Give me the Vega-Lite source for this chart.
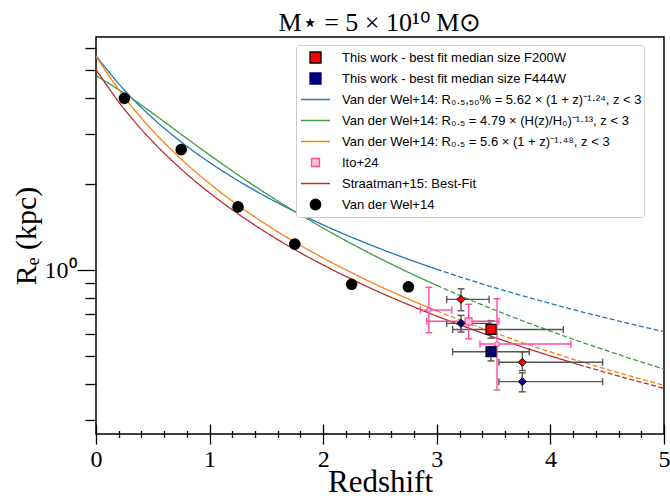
{
  "$schema": "https://vega.github.io/schema/vega-lite/v6.json",
  "width": 568,
  "height": 397,
  "autosize": {"type": "none"},
  "padding": {"left": 96, "top": 37, "right": 6, "bottom": 65},
  "title": {"text": "M⋆ = 5 × 10¹⁰ M⊙", "font": "Liberation Serif", "fontSize": 26, "fontWeight": "normal", "color": "black", "anchor": "middle", "baseline": "alphabetic", "offset": -20, "frame": "group"},
  "config": {
    "view": {"stroke": "black", "strokeWidth": 1.5},
    "axis": {"domain": false, "grid": false, "tickColor": "black", "tickWidth": 1.3, "labelColor": "black", "titleColor": "black", "labelFont": "Liberation Serif", "titleFont": "Liberation Serif", "titleFontWeight": "normal"},
    "legend": {"labelFont": "Liberation Sans", "labelFontSize": 13, "labelColor": "black", "padding": 2, "symbolOffset": 2, "labelOffset": 11, "rowPadding": 0, "clipHeight": 21, "strokeColor": "#cccccc", "fillColor": "white", "cornerRadius": 3, "symbolOpacity": 1, "symbolStrokeWidth": 1.3, "labelLimit": 400}
  },
  "datasets": {
    "curves": [
      {"curve": "vdw_a", "seg": "fit", "z": 0, "R": 5.620},
      {"curve": "vdw_a", "seg": "fit", "z": 0.25, "R": 4.262},
      {"curve": "vdw_a", "seg": "fit", "z": 0.5, "R": 3.399},
      {"curve": "vdw_a", "seg": "fit", "z": 0.75, "R": 2.808},
      {"curve": "vdw_a", "seg": "fit", "z": 1, "R": 2.379},
      {"curve": "vdw_a", "seg": "fit", "z": 1.25, "R": 2.056},
      {"curve": "vdw_a", "seg": "fit", "z": 1.5, "R": 1.804},
      {"curve": "vdw_a", "seg": "fit", "z": 1.75, "R": 1.603},
      {"curve": "vdw_a", "seg": "fit", "z": 2, "R": 1.439},
      {"curve": "vdw_a", "seg": "fit", "z": 2.25, "R": 1.303},
      {"curve": "vdw_a", "seg": "fit", "z": 2.5, "R": 1.189},
      {"curve": "vdw_a", "seg": "fit", "z": 2.75, "R": 1.091},
      {"curve": "vdw_a", "seg": "fit", "z": 3, "R": 1.007},
      {"curve": "vdw_a", "seg": "extrapolated", "z": 3, "R": 1.007},
      {"curve": "vdw_a", "seg": "extrapolated", "z": 3.25, "R": 0.934},
      {"curve": "vdw_a", "seg": "extrapolated", "z": 3.5, "R": 0.870},
      {"curve": "vdw_a", "seg": "extrapolated", "z": 3.75, "R": 0.814},
      {"curve": "vdw_a", "seg": "extrapolated", "z": 4, "R": 0.764},
      {"curve": "vdw_a", "seg": "extrapolated", "z": 4.25, "R": 0.719},
      {"curve": "vdw_a", "seg": "extrapolated", "z": 4.5, "R": 0.679},
      {"curve": "vdw_a", "seg": "extrapolated", "z": 4.75, "R": 0.642},
      {"curve": "vdw_a", "seg": "extrapolated", "z": 5, "R": 0.609},
      {"curve": "vdw_b", "seg": "fit", "z": 0, "R": 4.790},
      {"curve": "vdw_b", "seg": "fit", "z": 0.25, "R": 4.155},
      {"curve": "vdw_b", "seg": "fit", "z": 0.5, "R": 3.535},
      {"curve": "vdw_b", "seg": "fit", "z": 0.75, "R": 2.986},
      {"curve": "vdw_b", "seg": "fit", "z": 1, "R": 2.528},
      {"curve": "vdw_b", "seg": "fit", "z": 1.25, "R": 2.153},
      {"curve": "vdw_b", "seg": "fit", "z": 1.5, "R": 1.850},
      {"curve": "vdw_b", "seg": "fit", "z": 1.75, "R": 1.603},
      {"curve": "vdw_b", "seg": "fit", "z": 2, "R": 1.402},
      {"curve": "vdw_b", "seg": "fit", "z": 2.25, "R": 1.236},
      {"curve": "vdw_b", "seg": "fit", "z": 2.5, "R": 1.098},
      {"curve": "vdw_b", "seg": "fit", "z": 2.75, "R": 0.982},
      {"curve": "vdw_b", "seg": "fit", "z": 3, "R": 0.884},
      {"curve": "vdw_b", "seg": "extrapolated", "z": 3, "R": 0.884},
      {"curve": "vdw_b", "seg": "extrapolated", "z": 3.25, "R": 0.800},
      {"curve": "vdw_b", "seg": "extrapolated", "z": 3.5, "R": 0.728},
      {"curve": "vdw_b", "seg": "extrapolated", "z": 3.75, "R": 0.666},
      {"curve": "vdw_b", "seg": "extrapolated", "z": 4, "R": 0.612},
      {"curve": "vdw_b", "seg": "extrapolated", "z": 4.25, "R": 0.564},
      {"curve": "vdw_b", "seg": "extrapolated", "z": 4.5, "R": 0.522},
      {"curve": "vdw_b", "seg": "extrapolated", "z": 4.75, "R": 0.484},
      {"curve": "vdw_b", "seg": "extrapolated", "z": 5, "R": 0.451},
      {"curve": "vdw_c", "seg": "fit", "z": 0, "R": 5.600},
      {"curve": "vdw_c", "seg": "fit", "z": 0.25, "R": 4.025},
      {"curve": "vdw_c", "seg": "fit", "z": 0.5, "R": 3.073},
      {"curve": "vdw_c", "seg": "fit", "z": 0.75, "R": 2.446},
      {"curve": "vdw_c", "seg": "fit", "z": 1, "R": 2.008},
      {"curve": "vdw_c", "seg": "fit", "z": 1.25, "R": 1.686},
      {"curve": "vdw_c", "seg": "fit", "z": 1.5, "R": 1.443},
      {"curve": "vdw_c", "seg": "fit", "z": 1.75, "R": 1.253},
      {"curve": "vdw_c", "seg": "fit", "z": 2, "R": 1.102},
      {"curve": "vdw_c", "seg": "fit", "z": 2.25, "R": 0.979},
      {"curve": "vdw_c", "seg": "fit", "z": 2.5, "R": 0.877},
      {"curve": "vdw_c", "seg": "fit", "z": 2.75, "R": 0.792},
      {"curve": "vdw_c", "seg": "fit", "z": 3, "R": 0.720},
      {"curve": "vdw_c", "seg": "extrapolated", "z": 3, "R": 0.720},
      {"curve": "vdw_c", "seg": "extrapolated", "z": 3.25, "R": 0.658},
      {"curve": "vdw_c", "seg": "extrapolated", "z": 3.5, "R": 0.605},
      {"curve": "vdw_c", "seg": "extrapolated", "z": 3.75, "R": 0.558},
      {"curve": "vdw_c", "seg": "extrapolated", "z": 4, "R": 0.517},
      {"curve": "vdw_c", "seg": "extrapolated", "z": 4.25, "R": 0.481},
      {"curve": "vdw_c", "seg": "extrapolated", "z": 4.5, "R": 0.449},
      {"curve": "vdw_c", "seg": "extrapolated", "z": 4.75, "R": 0.421},
      {"curve": "vdw_c", "seg": "extrapolated", "z": 5, "R": 0.395},
      {"curve": "straatman", "seg": "fit", "z": 0, "R": 5.030},
      {"curve": "straatman", "seg": "fit", "z": 0.25, "R": 3.653},
      {"curve": "straatman", "seg": "fit", "z": 0.5, "R": 2.813},
      {"curve": "straatman", "seg": "fit", "z": 0.75, "R": 2.256},
      {"curve": "straatman", "seg": "fit", "z": 1, "R": 1.863},
      {"curve": "straatman", "seg": "fit", "z": 1.25, "R": 1.574},
      {"curve": "straatman", "seg": "fit", "z": 1.5, "R": 1.353},
      {"curve": "straatman", "seg": "fit", "z": 1.75, "R": 1.179},
      {"curve": "straatman", "seg": "fit", "z": 2, "R": 1.042},
      {"curve": "straatman", "seg": "fit", "z": 2.25, "R": 0.929},
      {"curve": "straatman", "seg": "fit", "z": 2.5, "R": 0.835},
      {"curve": "straatman", "seg": "fit", "z": 2.75, "R": 0.757},
      {"curve": "straatman", "seg": "fit", "z": 3, "R": 0.690},
      {"curve": "straatman", "seg": "fit", "z": 3.25, "R": 0.633},
      {"curve": "straatman", "seg": "fit", "z": 3.5, "R": 0.583},
      {"curve": "straatman", "seg": "fit", "z": 3.75, "R": 0.539},
      {"curve": "straatman", "seg": "fit", "z": 4, "R": 0.501},
      {"curve": "straatman", "seg": "fit", "z": 4.25, "R": 0.467},
      {"curve": "straatman", "seg": "extrapolated", "z": 4.25, "R": 0.467},
      {"curve": "straatman", "seg": "extrapolated", "z": 4.5, "R": 0.437},
      {"curve": "straatman", "seg": "extrapolated", "z": 4.75, "R": 0.410},
      {"curve": "straatman", "seg": "extrapolated", "z": 5, "R": 0.386}
    ],
    "vdw": [
      {"z": 0.25, "R": 3.99},
      {"z": 0.75, "R": 2.64},
      {"z": 1.25, "R": 1.664},
      {"z": 1.75, "R": 1.233},
      {"z": 2.25, "R": 0.892},
      {"z": 2.75, "R": 0.874}
    ],
    "tw": [
      {"band": "F200W", "kind": "median", "z": 3.477, "R": 0.620, "zlo": 3.139, "zhi": 4.114, "Rlo": 0.578, "Rhi": 0.665},
      {"band": "F444W", "kind": "median", "z": 3.477, "R": 0.518, "zlo": 3.139, "zhi": 3.814, "Rlo": 0.481, "Rhi": 0.539},
      {"band": "F200W", "kind": "bin", "z": 3.213, "R": 0.790, "zlo": 3.087, "zhi": 3.461, "Rlo": 0.721, "Rhi": 0.860},
      {"band": "F444W", "kind": "bin", "z": 3.213, "R": 0.651, "zlo": 3.087, "zhi": 3.461, "Rlo": 0.607, "Rhi": 0.694},
      {"band": "F200W", "kind": "bin", "z": 3.753, "R": 0.476, "zlo": 3.547, "zhi": 4.46, "Rlo": 0.445, "Rhi": 0.518},
      {"band": "F444W", "kind": "bin", "z": 3.753, "R": 0.407, "zlo": 3.547, "zhi": 4.46, "Rlo": 0.375, "Rhi": 0.437}
    ],
    "ito": [
      {"kind": "point", "z": 2.93, "R": 0.725, "zlo": 2.855, "zhi": 3.132, "Rlo": 0.604, "Rhi": 0.870},
      {"kind": "median", "z": 3.28, "R": 0.662, "zlo": 2.91, "zhi": 3.547, "Rlo": 0.575, "Rhi": 0.759},
      {"kind": "point", "z": 3.53, "R": 0.551, "zlo": 3.38, "zhi": 4.18, "Rlo": 0.381, "Rhi": 0.794}
    ],
    "legend": [
      {"entry": "This work - best fit median size F200W"},
      {"entry": "This work - best fit median size F444W"},
      {"entry": "Van der Wel+14: R₀.₅,₅₀% = 5.62 × (1 + z)⁻¹·²⁴, z < 3"},
      {"entry": "Van der Wel+14: R₀.₅ = 4.79 × (H(z)/H₀)⁻¹·¹³, z < 3"},
      {"entry": "Van der Wel+14: R₀.₅ = 5.6 × (1 + z)⁻¹·⁴⁸, z < 3"},
      {"entry": "Ito+24"},
      {"entry": "Straatman+15: Best-Fit"},
      {"entry": "Van der Wel+14"}
    ]
  },
  "resolve": {
    "axis": {"x": "independent", "y": "independent"},
    "scale": {"fill": "independent", "stroke": "independent", "shape": "independent", "size": "independent", "color": "independent", "strokeDash": "independent"}
  },
  "layer": [
    {
      "data": {"name": "curves"},
      "mark": {"type": "line", "strokeWidth": 1.3, "interpolate": "monotone", "clip": true},
      "encoding": {
        "x": {"field": "z", "type": "quantitative", "scale": {"domain": [0, 5], "nice": false, "zero": false},
          "axis": {"orient": "bottom", "values": [0, 1, 2, 3, 4, 5], "format": "d", "offset": -10, "tickSize": 20, "labelFontSize": 24, "labelPadding": 3, "labelFlush": false, "title": "Redshift", "titleFontSize": 31, "titleFontWeight": "normal", "titlePadding": -4}},
        "y": {"field": "R", "type": "quantitative", "scale": {"type": "log", "domain": [0.267, 6.54], "nice": false},
          "axis": {"orient": "left", "values": [0.3, 0.4, 0.5, 0.6, 0.7, 0.8, 0.9, 2, 3, 4, 5, 6], "tickSize": 11, "labels": false, "title": null}},
        "color": {"field": "curve", "type": "nominal", "scale": {"domain": ["vdw_a", "vdw_b", "vdw_c", "straatman"], "range": ["#1f77b4", "#3d9e3d", "#ff7f0e", "#b5302e"]}, "legend": null},
        "strokeDash": {"field": "seg", "type": "nominal", "scale": {"domain": ["fit", "extrapolated"], "range": [[1, 0], [5, 2.5]]}, "legend": null}
      }
    },
    {
      "data": {"name": "vdw"},
      "mark": {"type": "point", "shape": "circle", "filled": true, "size": 135, "color": "black", "opacity": 1},
      "encoding": {
        "x": {"field": "z", "type": "quantitative",
          "axis": {"orient": "bottom", "values": [0.2, 0.4, 0.6, 0.8, 1.2, 1.4, 1.6, 1.8, 2.2, 2.4, 2.6, 2.8, 3.2, 3.4, 3.6, 3.8, 4.2, 4.4, 4.6, 4.8], "offset": -3.5, "tickSize": 7, "labels": false, "title": null}},
        "y": {"field": "R", "type": "quantitative", "scale": {"type": "log"},
          "axis": {"orient": "left", "values": [1], "tickSize": 19, "labelExpr": "'10⁰'", "labelFontSize": 24, "labelPadding": 1, "title": "Rₑ (kpc)", "titleFontSize": 30, "titleFontWeight": "normal", "titlePadding": 3}}
      }
    },
    {
      "data": {"name": "tw"},
      "mark": {"type": "errorbar", "color": "#555555", "ticks": true, "size": 7, "thickness": 1.4, "opacity": 1},
      "encoding": {
        "x": {"field": "zlo", "type": "quantitative", "axis": null},
        "x2": {"field": "zhi"},
        "y": {"field": "R", "type": "quantitative", "scale": {"type": "log"}, "axis": null}
      }
    },
    {
      "data": {"name": "tw"},
      "mark": {"type": "errorbar", "color": "#555555", "ticks": true, "size": 7, "thickness": 1.4, "opacity": 1},
      "encoding": {
        "x": {"field": "z", "type": "quantitative", "axis": null},
        "y": {"field": "Rlo", "type": "quantitative", "scale": {"type": "log"}, "axis": null},
        "y2": {"field": "Rhi"}
      }
    },
    {
      "data": {"name": "ito"},
      "mark": {"type": "errorbar", "color": "#ff4aa5", "ticks": true, "size": 7, "thickness": 1.4, "opacity": 1},
      "encoding": {
        "x": {"field": "zlo", "type": "quantitative", "axis": null},
        "x2": {"field": "zhi"},
        "y": {"field": "R", "type": "quantitative", "scale": {"type": "log"}, "axis": null}
      }
    },
    {
      "data": {"name": "ito"},
      "mark": {"type": "errorbar", "color": "#ff4aa5", "ticks": true, "size": 7, "thickness": 1.4, "opacity": 1},
      "encoding": {
        "x": {"field": "z", "type": "quantitative", "axis": null},
        "y": {"field": "Rlo", "type": "quantitative", "scale": {"type": "log"}, "axis": null},
        "y2": {"field": "Rhi"}
      }
    },
    {
      "data": {"name": "ito"},
      "transform": [{"filter": "datum.kind == 'point'"}],
      "mark": {"type": "point", "shape": "circle", "filled": true, "size": 22, "fill": "#ffd3e2", "stroke": "#ff4aa5", "strokeWidth": 1.2, "opacity": 1},
      "encoding": {
        "x": {"field": "z", "type": "quantitative", "axis": null},
        "y": {"field": "R", "type": "quantitative", "scale": {"type": "log"}, "axis": null}
      }
    },
    {
      "data": {"name": "ito"},
      "transform": [{"filter": "datum.kind == 'median'"}],
      "mark": {"type": "point", "shape": "square", "filled": true, "size": 49, "fill": "#ffc0cb", "stroke": "#ff4aa5", "strokeWidth": 1.2, "opacity": 1},
      "encoding": {
        "x": {"field": "z", "type": "quantitative", "axis": null},
        "y": {"field": "R", "type": "quantitative", "scale": {"type": "log"}, "axis": null}
      }
    },
    {
      "data": {"name": "tw"},
      "transform": [{"filter": "datum.kind == 'bin'"}],
      "mark": {"type": "point", "shape": "diamond", "filled": true, "size": 64, "stroke": "black", "strokeWidth": 1, "opacity": 1},
      "encoding": {
        "x": {"field": "z", "type": "quantitative", "axis": null},
        "y": {"field": "R", "type": "quantitative", "scale": {"type": "log"}, "axis": null},
        "fill": {"field": "band", "type": "nominal", "scale": {"domain": ["F200W", "F444W"], "range": ["#ff0000", "#000080"]}, "legend": null}
      }
    },
    {
      "data": {"name": "tw"},
      "transform": [{"filter": "datum.kind == 'median'"}],
      "mark": {"type": "point", "shape": "square", "filled": true, "size": 100, "stroke": "black", "strokeWidth": 1.2, "opacity": 1},
      "encoding": {
        "x": {"field": "z", "type": "quantitative", "axis": null},
        "y": {"field": "R", "type": "quantitative", "scale": {"type": "log"}, "axis": null},
        "fill": {"field": "band", "type": "nominal", "scale": {"domain": ["F200W", "F444W"], "range": ["#ff0000", "#000080"]}, "legend": null}
      }
    },
    {
      "data": {"name": "legend"},
      "mark": {"type": "point", "filled": true, "opacity": 0},
      "encoding": {
        "fill": {"field": "entry", "type": "nominal",
          "scale": {"domain": ["This work - best fit median size F200W", "This work - best fit median size F444W", "Van der Wel+14: R₀.₅,₅₀% = 5.62 × (1 + z)⁻¹·²⁴, z < 3", "Van der Wel+14: R₀.₅ = 4.79 × (H(z)/H₀)⁻¹·¹³, z < 3", "Van der Wel+14: R₀.₅ = 5.6 × (1 + z)⁻¹·⁴⁸, z < 3", "Ito+24", "Straatman+15: Best-Fit", "Van der Wel+14"],
            "range": ["#ff0000", "#000080", "transparent", "transparent", "transparent", "#ffc0cb", "transparent", "black"]},
          "legend": {"title": null, "orient": "none", "legendX": 200, "legendY": 8}},
        "stroke": {"field": "entry", "type": "nominal",
          "scale": {"domain": ["This work - best fit median size F200W", "This work - best fit median size F444W", "Van der Wel+14: R₀.₅,₅₀% = 5.62 × (1 + z)⁻¹·²⁴, z < 3", "Van der Wel+14: R₀.₅ = 4.79 × (H(z)/H₀)⁻¹·¹³, z < 3", "Van der Wel+14: R₀.₅ = 5.6 × (1 + z)⁻¹·⁴⁸, z < 3", "Ito+24", "Straatman+15: Best-Fit", "Van der Wel+14"],
            "range": ["black", "#000080", "#1f77b4", "#3d9e3d", "#ff7f0e", "#ff4aa5", "#b5302e", "black"]},
          "legend": {"title": null, "orient": "none", "legendX": 200, "legendY": 8}},
        "shape": {"field": "entry", "type": "nominal",
          "scale": {"domain": ["This work - best fit median size F200W", "This work - best fit median size F444W", "Van der Wel+14: R₀.₅,₅₀% = 5.62 × (1 + z)⁻¹·²⁴, z < 3", "Van der Wel+14: R₀.₅ = 4.79 × (H(z)/H₀)⁻¹·¹³, z < 3", "Van der Wel+14: R₀.₅ = 5.6 × (1 + z)⁻¹·⁴⁸, z < 3", "Ito+24", "Straatman+15: Best-Fit", "Van der Wel+14"],
            "range": ["square", "square", "stroke", "stroke", "stroke", "square", "stroke", "circle"]},
          "legend": {"title": null, "orient": "none", "legendX": 200, "legendY": 8}},
        "size": {"field": "entry", "type": "nominal",
          "scale": {"type": "ordinal", "domain": ["This work - best fit median size F200W", "This work - best fit median size F444W", "Van der Wel+14: R₀.₅,₅₀% = 5.62 × (1 + z)⁻¹·²⁴, z < 3", "Van der Wel+14: R₀.₅ = 4.79 × (H(z)/H₀)⁻¹·¹³, z < 3", "Van der Wel+14: R₀.₅ = 5.6 × (1 + z)⁻¹·⁴⁸, z < 3", "Ito+24", "Straatman+15: Best-Fit", "Van der Wel+14"],
            "range": [121, 121, 841, 841, 841, 64, 841, 110]},
          "legend": {"title": null, "orient": "none", "legendX": 200, "legendY": 8}}
      }
    }
  ]
}
